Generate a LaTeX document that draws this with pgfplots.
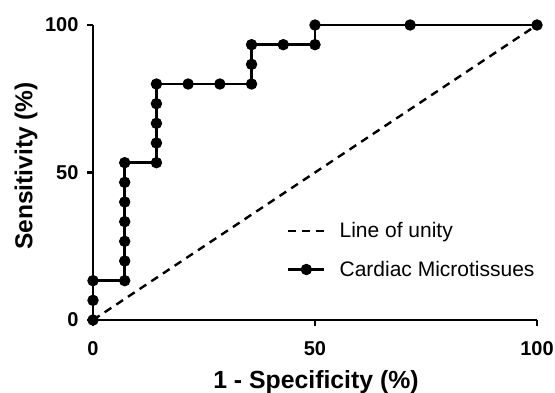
\documentclass[border=0pt]{standalone}
\usepackage{pgfplots}
\pgfplotsset{compat=1.18}
\usepackage{fontspec}
\setmainfont{Liberation Sans}
\pgfplotsset{
  dashleg/.style={legend image code/.code={\draw[##1] (0pt,0pt) -- (36pt,0pt);}},
  markleg/.style={legend image code/.code={\draw[mark repeat=2,mark phase=2,##1] plot coordinates {(0pt,0pt) (18pt,0pt) (36pt,0pt)};}},
}
\begin{document}
\begin{tikzpicture}
\useasboundingbox (-93pt,-72pt) rectangle (462pt,320pt);
\begin{axis}[
  at={(0pt,0pt)}, anchor=south west,
  scale only axis,
  width=444pt, height=295pt,
  xmin=0, xmax=100, ymin=0, ymax=100,
  axis x line=bottom, axis y line=left,
  axis line style={-, line width=2.5pt},
  xtick={0,50,100}, ytick={0,50,100},
  tick style={line width=2.5pt, black},
  tick align=outside,
  major tick length=6pt,
  /pgf/number format/assume math mode=true,
  ticklabel style={font=\fontsize{20}{22}\selectfont\bfseries},
  xticklabel style={yshift=-12pt},
  yticklabel style={xshift=-5pt},
  xlabel={1 - Specificity (\%)},
  ylabel={Sensitivity (\%)},
  every axis x label/.style={at={(axis description cs:0.5,0)}, anchor=base, yshift=-68pt, xshift=1pt,
    font=\fontsize{24.8}{28}\selectfont\bfseries},
  every axis y label/.style={at={(axis description cs:0,0.5)}, anchor=center, rotate=90, yshift=67pt, xshift=6.5pt,
    font=\fontsize{24.5}{28}\selectfont\bfseries},
  clip=false,
  legend style={draw=none, fill=none, at={(rel axis cs:0.43,0.345)}, anchor=north west,
    font=\fontsize{21}{24}\selectfont, row sep=18pt,
    /tikz/every odd column/.append style={column sep=12pt}},
  legend cell align=left,
]
\addplot[black, line width=2.4pt, dash pattern=on 8pt off 6pt, dashleg]
  coordinates {(0,0) (100,100)};
\addlegendentry{Line of unity}
\addplot[black, line width=2.5pt, mark=*, mark size=5.2pt, mark options={solid, line width=1pt}, markleg]
  coordinates {
  (0,0) (0,6.667) (0,13.333)
  (7.143,13.333) (7.143,20) (7.143,26.667) (7.143,33.333) (7.143,40) (7.143,46.667) (7.143,53.333)
  (14.286,53.333) (14.286,60) (14.286,66.667) (14.286,73.333) (14.286,80)
  (21.429,80) (28.571,80) (35.714,80) (35.714,86.667) (35.714,93.333)
  (42.857,93.333) (50,93.333) (50,100) (71.429,100) (100,100)
  };
\addlegendentry{Cardiac Microtissues}
\end{axis}
\end{tikzpicture}
\end{document}
